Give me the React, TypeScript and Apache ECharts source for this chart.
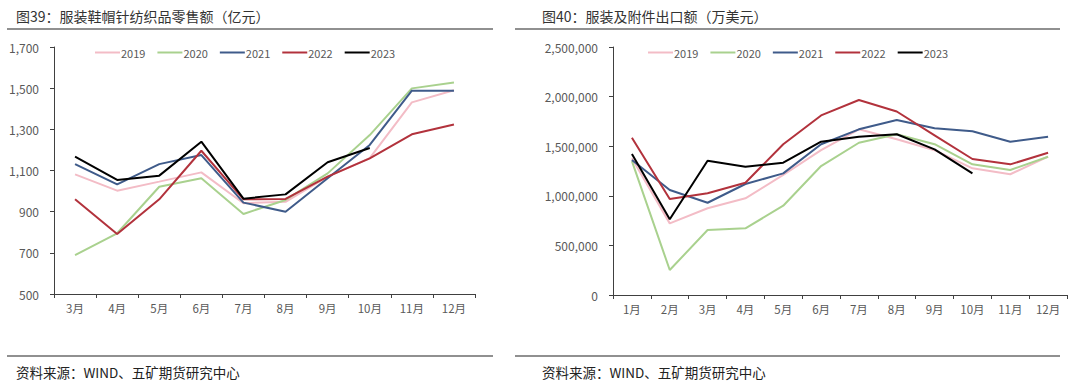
import React, { useEffect, useRef } from "react";
import * as echarts from "echarts";

const years = ["2019", "2020", "2021", "2022", "2023"];
const colors = ["#F3BCC6", "#A9D18E", "#3F5B8A", "#B2323C", "#000000"];

const retailMonths = ["3月", "4月", "5月", "6月", "7月", "8月", "9月", "10月", "11月", "12月"];
const retail2019 = [1081, 1002, 1046, 1091, 941, 948, 1070, 1160, 1431, 1490];
const retail2020 = [689, 795, 1021, 1062, 889, 957, 1086, 1272, 1499, 1528];
const retail2021 = [1131, 1033, 1131, 1175, 944, 900, 1062, 1224, 1488, 1488];
const retail2022 = [960, 791, 960, 1196, 960, 962, 1070, 1159, 1276, 1323];
const retail2023 = [1167, 1054, 1075, 1240, 963, 984, 1140, 1209];

const exportMonths = ["1月", "2月", "3月", "4月", "5月", "6月", "7月", "8月", "9月", "10月", "11月", "12月"];
const export2019 = [1378000, 722000, 874000, 975000, 1210000, 1460000, 1670000, 1570000, 1460000, 1277000, 1217000, 1394000];
const export2020 = [1350000, 252000, 655000, 672000, 900000, 1300000, 1535000, 1620000, 1520000, 1317000, 1260000, 1394000];
const export2021 = [1360000, 1058000, 930000, 1119000, 1226000, 1520000, 1670000, 1764000, 1680000, 1650000, 1545000, 1596000];
const export2022 = [1586000, 968000, 1025000, 1132000, 1520000, 1810000, 1966000, 1850000, 1610000, 1371000, 1317000, 1434000];
const export2023 = [1421000, 763000, 1354000, 1293000, 1334000, 1545000, 1596000, 1620000, 1468000, 1226000];

const retailSeries = [retail2019, retail2020, retail2021, retail2022, retail2023];
const exportSeries = [export2019, export2020, export2021, export2022, export2023];

const leftTitle = "图39：服装鞋帽针纺织品零售额（亿元）";
const rightTitle = "图40：服装及附件出口额（万美元）";
const sourceText = "资料来源：WIND、五矿期货研究中心";

const FONT = "'Noto Sans CJK SC', 'Noto Sans', sans-serif";

export default function App() {
  const ref = useRef<HTMLDivElement>(null);
  useEffect(() => {
    if (!ref.current) return;
    const chart = echarts.init(ref.current, undefined, { renderer: "svg" });
    const fmt = (v: number) => Number(v).toLocaleString("en-US");
    const axisLabel = { color: "#595959", fontSize: 11, fontFamily: FONT };
    const axisLine = { lineStyle: { color: "#404040", width: 1 } };
    const series: any[] = [];
    years.forEach((y, i) => {
      series.push({
        name: y,
        type: "line",
        xAxisIndex: 0,
        yAxisIndex: 0,
        data: retailSeries[i],
        symbol: "none",
        lineStyle: { color: colors[i], width: 2 },
        itemStyle: { color: colors[i] },
      });
    });
    years.forEach((y, i) => {
      series.push({
        name: y,
        type: "line",
        xAxisIndex: 1,
        yAxisIndex: 1,
        data: exportSeries[i],
        symbol: "none",
        lineStyle: { color: colors[i], width: 2 },
        itemStyle: { color: colors[i] },
      });
    });
    const legendBase = {
      data: years,
      icon: "rect",
      itemWidth: 25,
      itemHeight: 2,
      itemGap: 12,
      top: 42,
      textStyle: { color: "#595959", fontSize: 11, fontFamily: FONT, padding: [0, 0, 0, -4] },
    };
    chart.setOption({
      animation: false,
      backgroundColor: "#ffffff",
      grid: [
        { left: 54, top: 47, width: 421, height: 247 },
        { left: 613, top: 47, width: 454, height: 248 },
      ],
      legend: [
        { ...legendBase, left: 90 },
        { ...legendBase, left: 643 },
      ],
      xAxis: [
        {
          type: "category",
          gridIndex: 0,
          data: retailMonths,
          boundaryGap: true,
          axisLine,
          axisTick: { show: true, length: 4, lineStyle: { color: "#404040" } },
          axisLabel: { ...axisLabel, fontSize: 11.5, margin: 8 },
        },
        {
          type: "category",
          gridIndex: 1,
          data: exportMonths,
          boundaryGap: true,
          axisLine,
          axisTick: { show: true, length: 4, lineStyle: { color: "#404040" } },
          axisLabel: { ...axisLabel, fontSize: 11.5, margin: 8 },
        },
      ],
      yAxis: [
        {
          type: "value",
          gridIndex: 0,
          min: 500,
          max: 1700,
          interval: 200,
          axisLine: { show: true, ...axisLine },
          axisTick: { show: true, length: 4, lineStyle: { color: "#404040" } },
          splitLine: { show: false },
          axisLabel: { ...axisLabel, fontSize: 12, margin: 15, formatter: fmt },
        },
        {
          type: "value",
          gridIndex: 1,
          min: 0,
          max: 2500000,
          interval: 500000,
          axisLine: { show: true, ...axisLine },
          axisTick: { show: true, length: 4, lineStyle: { color: "#404040" } },
          splitLine: { show: false },
          axisLabel: { ...axisLabel, fontSize: 12, margin: 15, formatter: fmt },
        },
      ],
      graphic: [
        { type: "text", left: 16, top: 9, style: { text: leftTitle, fill: "#333333", fontSize: 14, fontFamily: FONT } },
        { type: "text", left: 542, top: 9, style: { text: rightTitle, fill: "#333333", fontSize: 14, fontFamily: FONT } },
        { type: "line", shape: { x1: 7, y1: 29, x2: 493, y2: 29 }, style: { stroke: "#6b6b6b", lineWidth: 1.5 } },
        { type: "line", shape: { x1: 515, y1: 29, x2: 1060, y2: 29 }, style: { stroke: "#6b6b6b", lineWidth: 1.5 } },
        { type: "line", shape: { x1: 7, y1: 356, x2: 493, y2: 356 }, style: { stroke: "#6b6b6b", lineWidth: 1.5 } },
        { type: "line", shape: { x1: 515, y1: 356, x2: 1060, y2: 356 }, style: { stroke: "#6b6b6b", lineWidth: 1.5 } },
        { type: "text", left: 16, top: 365, style: { text: sourceText, fill: "#222222", fontSize: 13.5, fontFamily: FONT } },
        { type: "text", left: 542, top: 365, style: { text: sourceText, fill: "#222222", fontSize: 13.5, fontFamily: FONT } },
      ],
      series,
    });
    return () => chart.dispose();
  }, []);
  return (
    <div
      ref={ref}
      style={{ position: "fixed", left: 0, top: 0, width: 1080, height: 389, background: "#fff" }}
    />
  );
}
